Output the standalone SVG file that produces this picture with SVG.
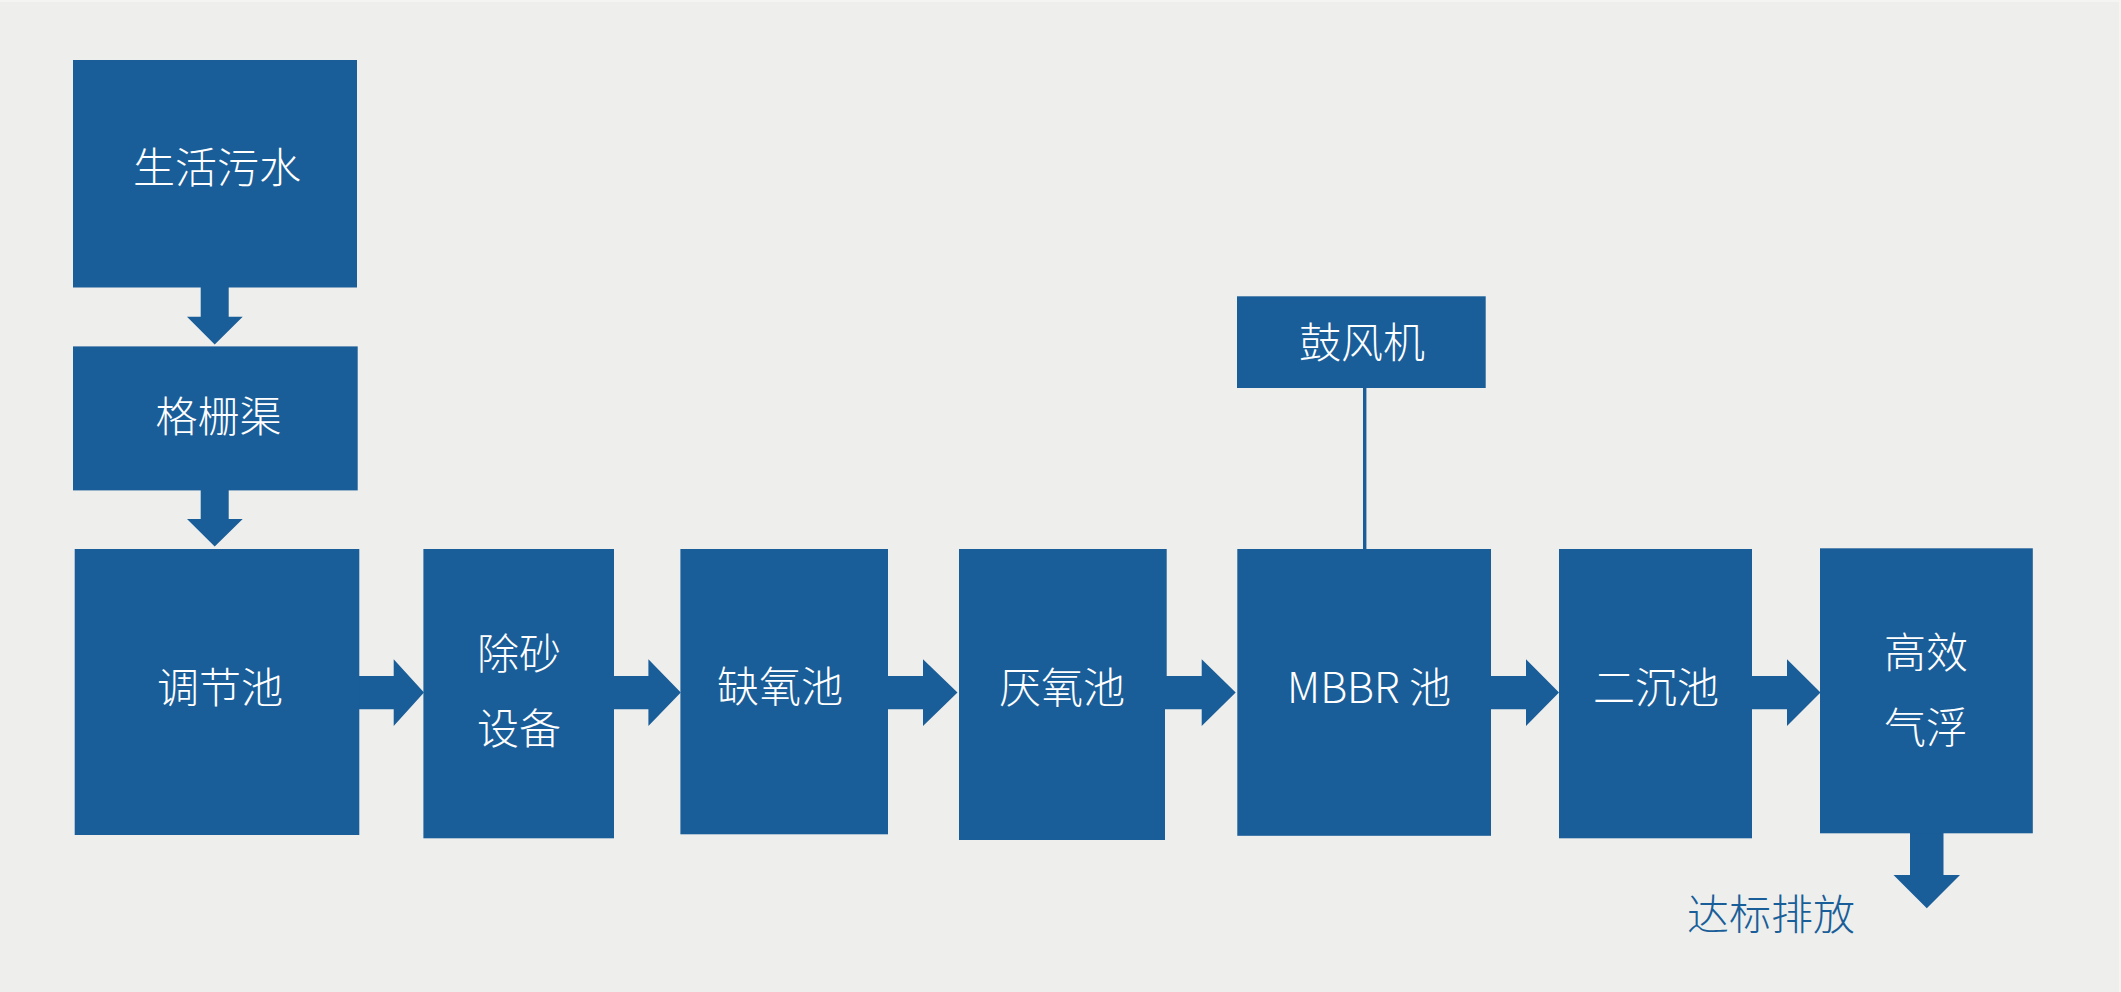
<svg xmlns="http://www.w3.org/2000/svg" width="2121" height="992" viewBox="0 0 2121 992">
<style>
.box{fill:#1A5E99}
.arr{fill:#1A5E99}
.lbl{font-family:"Noto Sans CJK SC","Noto Sans",sans-serif;font-size:42px;font-weight:300;fill:#FFFFFF;text-anchor:middle;dominant-baseline:central}
.out{font-family:"Noto Sans CJK SC","Noto Sans",sans-serif;font-size:42px;font-weight:300;fill:#1A5E99;text-anchor:middle;dominant-baseline:central}
</style>
<rect x="0" y="0" width="2121" height="992" fill="#F4F4F3"/>
<rect x="0" y="2" width="2119" height="990" fill="#EEEEEC"/>
<g id="connectors">
<polygon class="arr" points="200.7,287 228.7,287 228.7,316.8 242.7,316.8 214.7,344.6 187,316.8 200.7,316.8"/>
<polygon class="arr" points="200.7,490 228.7,490 228.7,519 242.7,519 214.7,546.4 187,519 200.7,519"/>
<polygon class="arr" points="359,676 393.7,676 393.7,659.3 424,692.5 393.7,726 393.7,709.3 359,709.3"/>
<polygon class="arr" points="613.5,676 648.4,676 648.4,659.3 680.8,692.5 648.4,726 648.4,709.3 613.5,709.3"/>
<polygon class="arr" points="887.5,676 923,676 923,659.3 957.5,692.5 923,726 923,709.3 887.5,709.3"/>
<polygon class="arr" points="1165,676 1201.7,676 1201.7,659.3 1235.7,692.5 1201.7,726 1201.7,709.3 1165,709.3"/>
<polygon class="arr" points="1490.5,676 1526,676 1526,659.3 1559,692.5 1526,726 1526,709.3 1490.5,709.3"/>
<polygon class="arr" points="1751.5,676 1787,676 1787,659.3 1820.5,692.5 1787,726 1787,709.3 1751.5,709.3"/>
<rect class="arr" x="1363" y="387" width="3.4" height="163"/>
<polygon class="arr" points="1910,833 1943.5,833 1943.5,875 1960,875 1926.8,908.3 1893.5,875 1910,875"/>
</g>
<g id="n-sewage"><rect class="box" x="73" y="60" width="284" height="227.5"/><text class="lbl" x="217" y="164">生活污水</text></g>
<g id="n-screen"><rect class="box" x="73" y="346.4" width="284.7" height="144"/><text class="lbl" x="218.5" y="413">格栅渠</text></g>
<g id="n-equal"><rect class="box" x="74.7" y="549" width="284.6" height="286"/><text class="lbl" x="220" y="684.5">调节池</text></g>
<g id="n-grit"><rect class="box" x="423.4" y="549" width="190.6" height="289.3"/><text class="lbl" x="519" y="650">除砂</text><text class="lbl" x="519" y="725">设备</text></g>
<g id="n-anoxic"><rect class="box" x="680.4" y="549" width="207.6" height="285.3"/><text class="lbl" x="780" y="683">缺氧池</text></g>
<g id="n-anaerobic"><polygon class="box" points="959,549 1166.7,549 1166.7,676 1165,676 1165,840 959,840"/><text class="lbl" x="1062" y="684">厌氧池</text></g>
<g id="n-blower"><rect class="box" x="1237" y="296.3" width="248.7" height="91.7"/><text class="lbl" x="1362" y="339">鼓风机</text></g>
<g id="n-mbbr"><rect class="box" x="1237.3" y="549" width="253.7" height="286.8"/><text class="lbl" x="1369" y="684.5">MBBR 池</text></g>
<g id="n-clarifier"><rect class="box" x="1559" y="549" width="193" height="289.3"/><text class="lbl" x="1656" y="684.5">二沉池</text></g>
<g id="n-daf"><rect class="box" x="1820" y="548.3" width="212.8" height="285"/><text class="lbl" x="1926" y="649.5">高效</text><text class="lbl" x="1926" y="724.5">气浮</text></g>
<g id="n-out"><text class="out" x="1771" y="911">达标排放</text></g>
</svg>
